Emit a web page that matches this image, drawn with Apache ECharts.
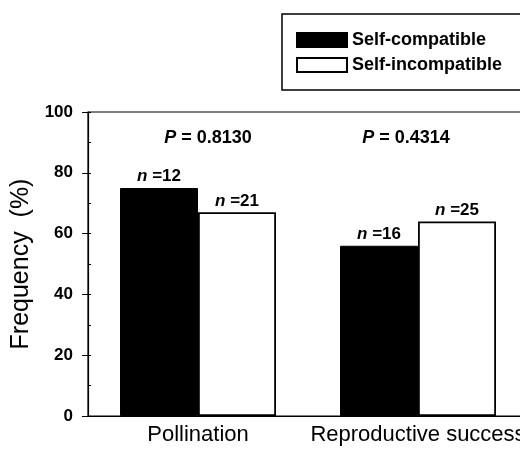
<!DOCTYPE html>
<html>
<head>
<meta charset="utf-8">
<script src="https://cdn.jsdelivr.net/npm/echarts@6/dist/echarts.min.js"></script>
<style>
  html, body { margin: 0; padding: 0; background: #fff; }
  #chart { width: 520px; height: 454px; }
</style>
</head>
<body>
<div id="chart"></div>
<script>
// chart data
var categories = ['Pollination', 'Reproductive success'];
var selfCompatible = [75, 56];
var selfIncompatible = [67, 64];
var nCompatible = [12, 16];
var nIncompatible = [21, 25];
var pValues = ['0.8130', '0.4314'];
var yTicks = [0, 20, 40, 60, 80, 100];

var font = 'Liberation Sans, Arial, sans-serif';

function nLabel(counts) {
  return function (p) {
    return '{i|n} =' + counts[p.dataIndex];
  };
}

var nRich = {
  i: { fontStyle: 'italic', fontWeight: 'bold', fontSize: 17, fontFamily: font, color: '#000' }
};

var chart = echarts.init(document.getElementById('chart'));
chart.setOption({
  animation: false,
  backgroundColor: '#fff',
  textStyle: { fontFamily: font, color: '#000' },
  grid: {
    left: 88, width: 440, top: 112, bottom: 38,
    outerBoundsMode: 'none',
    containLabel: false,
    show: true, borderColor: '#000', borderWidth: 1.2, backgroundColor: 'transparent'
  },
  legend: {
    data: ['Self-compatible', 'Self-incompatible'],
    orient: 'vertical',
    left: 282, top: 14,
    padding: [17, 70, 16, 14],
    itemGap: 7,
    itemWidth: 50, itemHeight: 14,
    borderColor: '#000', borderWidth: 1.5,
    icon: 'rect',
    textStyle: { fontSize: 18, fontWeight: 'bold', fontFamily: font, color: '#000' }
  },
  xAxis: {
    type: 'category',
    data: categories,
    axisLine: { lineStyle: { color: '#000', width: 1.2 } },
    axisTick: { alignWithLabel: true, length: 5, lineStyle: { color: '#000' } },
    axisLabel: { fontSize: 22, color: '#000', margin: 8, interval: 0 }
  },
  yAxis: [{
    type: 'value',
    min: 0, max: 100, interval: 20,
    name: 'Frequency  (%)',
    nameLocation: 'middle',
    nameGap: 47,
    nameTextStyle: { fontSize: 25, color: '#000' },
    axisLine: { show: true, lineStyle: { color: '#000', width: 1.2 } },
    axisTick: { show: true, length: 6, lineStyle: { color: '#000' } },
    splitLine: { show: false },
    axisLabel: {
      fontSize: 17, fontWeight: 'bold', color: '#000', margin: 15,
      formatter: function (v) { return yTicks.indexOf(v) >= 0 ? String(v) : ''; }
    }
  }, {
    type: 'value',
    position: 'left',
    min: 0, max: 100, interval: 10,
    axisLine: { show: false },
    axisTick: { show: true, inside: true, length: 3, lineStyle: { color: '#000' } },
    axisLabel: { show: false },
    splitLine: { show: false }
  }],
  series: [{
    name: 'Self-compatible',
    type: 'bar',
    data: selfCompatible,
    barWidth: 78,
    barGap: '0%',
    itemStyle: { color: '#000', borderColor: '#000', borderWidth: 1 },
    label: {
      show: true, position: 'top', distance: 3,
      fontSize: 17, fontWeight: 'bold', color: '#000',
      formatter: nLabel(nCompatible), rich: nRich
    }
  }, {
    name: 'Self-incompatible',
    type: 'bar',
    data: selfIncompatible,
    barWidth: 78,
    barGap: '0%',
    itemStyle: { color: '#fff', borderColor: '#000', borderWidth: 1.8 },
    label: {
      show: true, position: 'top', distance: 3,
      fontSize: 17, fontWeight: 'bold', color: '#000',
      formatter: nLabel(nIncompatible), rich: nRich
    }
  }, {
    name: 'P',
    type: 'scatter',
    symbolSize: 0,
    silent: true,
    itemStyle: { opacity: 1 },
    data: [
      { value: [0, 91.5], label: { offset: [10, 0] } },
      { value: [1, 91.5], label: { offset: [-12, 0] } }
    ],
    label: {
      show: true, position: 'inside',
      fontSize: 18, fontWeight: 'bold', color: '#000',
      formatter: function (p) { return '{i|P} = ' + pValues[p.dataIndex]; },
      rich: { i: { fontStyle: 'italic', fontWeight: 'bold', fontSize: 18, fontFamily: font, color: '#000' } }
    }
  }]
});
</script>
</body>
</html>
